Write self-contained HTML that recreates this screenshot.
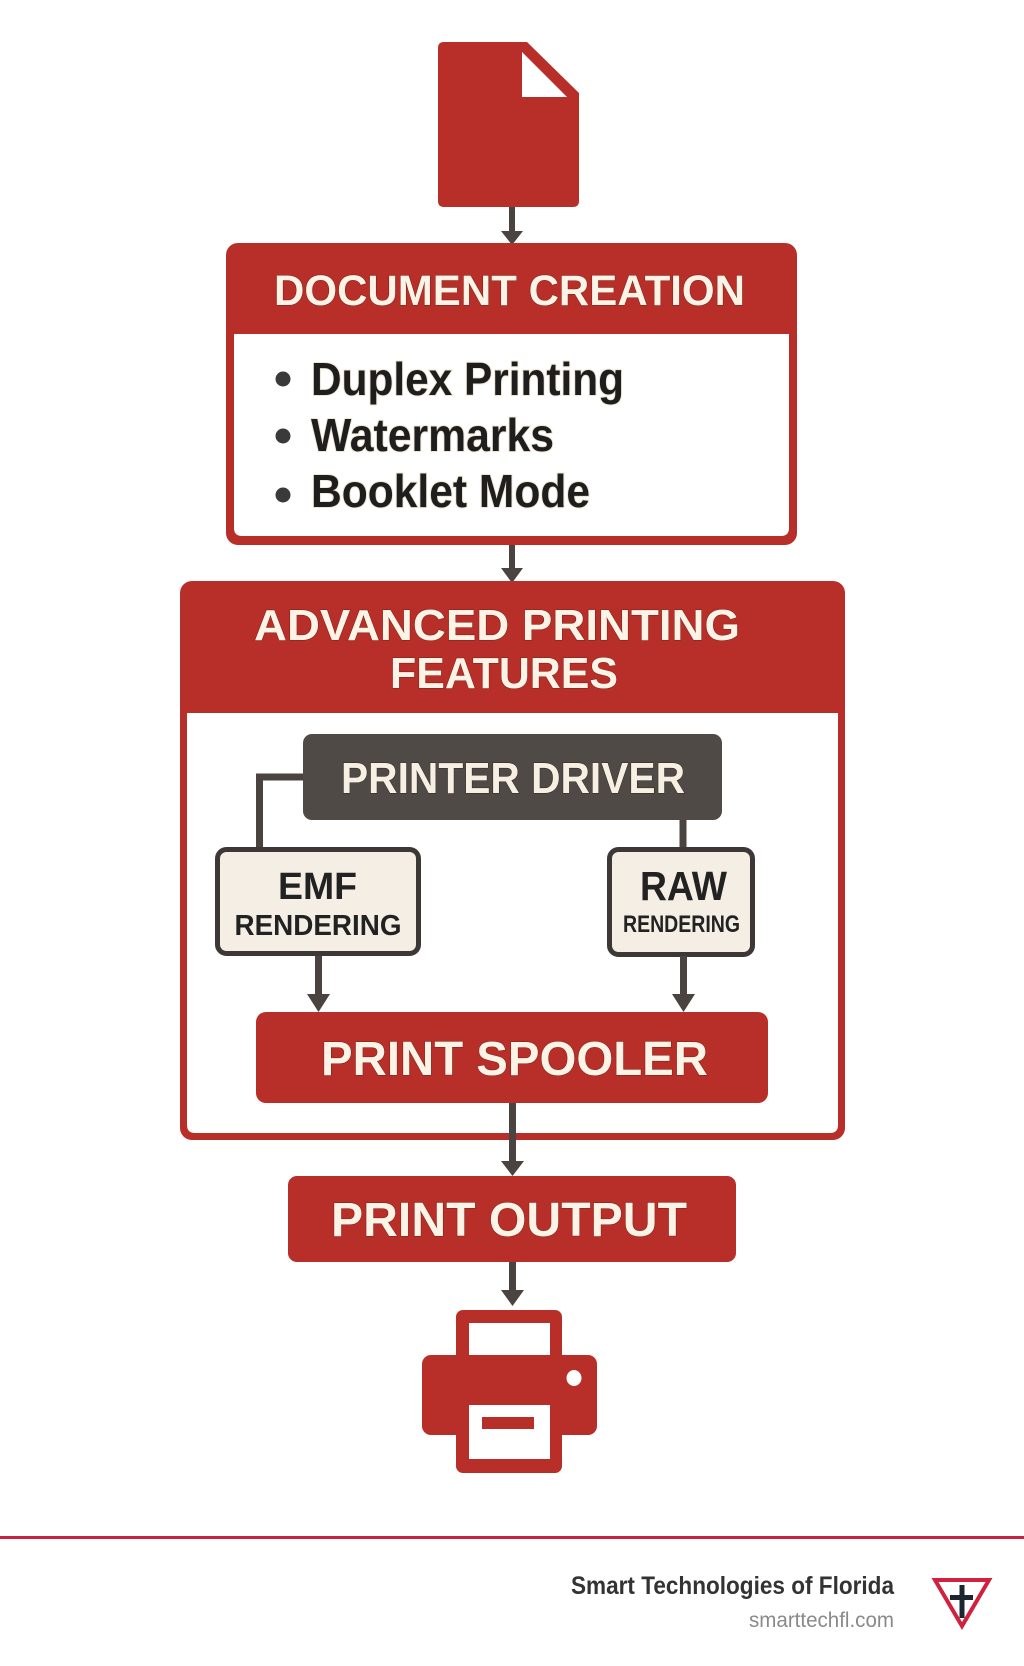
<!DOCTYPE html>
<html><head><meta charset="utf-8"><style>
html,body{margin:0;padding:0;background:#fff;}
svg{display:block;}
</style></head><body>
<svg width="1024" height="1666" viewBox="0 0 1024 1666" xmlns="http://www.w3.org/2000/svg" font-family="'Liberation Sans', sans-serif">
<rect width="1024" height="1666" fill="#fff"/>
<!-- document icon -->
<path d="M444,42 H527 L579,93 V201 Q579,207 573,207 H444 Q438,207 438,201 V48 Q438,42 444,42 Z" fill="#b82e28"/>
<path d="M522,52 V97 H567 Z" fill="#fff"/>
<!-- arrow 1 -->
<rect x="509" y="207" width="6" height="26" fill="#4a4340"/>
<polygon points="501,231 523,231 512,245" fill="#4a4340"/>
<!-- document creation box -->
<rect x="226" y="243" width="571" height="302" rx="12" fill="#b82e28"/>
<path d="M234,334 H789 V528 Q789,536 781,536 H242 Q234,536 234,528 Z" fill="#fff"/>
<text x="509.5" y="305" font-size="43" font-weight="bold" fill="#fbf3e6" stroke="#7a1f18" stroke-width="1" paint-order="stroke" text-anchor="middle" textLength="471" lengthAdjust="spacingAndGlyphs">DOCUMENT CREATION</text>
<circle cx="283" cy="379" r="7.5" fill="#3a3a3a"/>
<circle cx="283" cy="436" r="7.5" fill="#3a3a3a"/>
<circle cx="283" cy="495" r="7.5" fill="#3a3a3a"/>
<g font-size="46" font-weight="bold" fill="#1e1e1e" stroke="#efe6d2" stroke-width="2" paint-order="stroke">
<text x="311" y="395" textLength="313" lengthAdjust="spacingAndGlyphs">Duplex Printing</text>
<text x="311" y="451" textLength="243" lengthAdjust="spacingAndGlyphs">Watermarks</text>
<text x="311" y="507" textLength="279" lengthAdjust="spacingAndGlyphs">Booklet Mode</text>
</g>
<!-- arrow 2 -->
<rect x="509" y="545" width="6" height="25" fill="#4a4340"/>
<polygon points="501,568 523,568 512,583" fill="#4a4340"/>
<!-- advanced box -->
<rect x="180" y="581" width="665" height="559" rx="12" fill="#b82e28"/>
<path d="M187,713 H838 V1125 Q838,1133 830,1133 H195 Q187,1133 187,1125 Z" fill="#fff"/>
<g font-size="44" font-weight="bold" fill="#fbf3e6" stroke="#7a1f18" stroke-width="1" paint-order="stroke" text-anchor="middle">
<text x="497" y="640" textLength="486" lengthAdjust="spacingAndGlyphs">ADVANCED PRINTING</text>
<text x="504" y="688" textLength="228" lengthAdjust="spacingAndGlyphs">FEATURES</text>
</g>
<!-- printer driver -->
<rect x="303" y="734" width="419" height="86" rx="9" fill="#4f4a46"/>
<text x="513" y="793" font-size="44" font-weight="bold" fill="#f7efe2" stroke="#2a2624" stroke-width="1" paint-order="stroke" text-anchor="middle" textLength="344" lengthAdjust="spacingAndGlyphs">PRINTER DRIVER</text>
<!-- connectors -->
<path d="M303,777 H259.5 V849" fill="none" stroke="#4a4340" stroke-width="7"/>
<path d="M683,820 V849" fill="none" stroke="#4a4340" stroke-width="7"/>
<!-- EMF box -->
<rect x="217.5" y="849.5" width="201" height="104" rx="9" fill="#f4eee4" stroke="#3d3835" stroke-width="5"/>
<text x="317.5" y="899" font-size="38" font-weight="bold" fill="#222" text-anchor="middle" textLength="79" lengthAdjust="spacingAndGlyphs">EMF</text>
<text x="318" y="935" font-size="29" font-weight="bold" fill="#222" text-anchor="middle" textLength="167" lengthAdjust="spacingAndGlyphs">RENDERING</text>
<!-- RAW box -->
<rect x="609.5" y="849.5" width="143" height="105" rx="9" fill="#f4eee4" stroke="#3d3835" stroke-width="5"/>
<text x="683.5" y="900" font-size="41" font-weight="bold" fill="#222" text-anchor="middle" textLength="87" lengthAdjust="spacingAndGlyphs">RAW</text>
<text x="681.5" y="932" font-size="24" font-weight="bold" fill="#222" text-anchor="middle" textLength="117" lengthAdjust="spacingAndGlyphs">RENDERING</text>
<!-- arrows to spooler -->
<rect x="315" y="956" width="7" height="40" fill="#4a4340"/>
<polygon points="307,994 330,994 318.5,1012" fill="#4a4340"/>
<rect x="680" y="956" width="7" height="40" fill="#4a4340"/>
<polygon points="672,994 695,994 683.5,1012" fill="#4a4340"/>
<!-- spooler -->
<rect x="256" y="1012" width="512" height="91" rx="10" fill="#b82e28"/>
<text x="514.5" y="1075" font-size="48" font-weight="bold" fill="#fbf3e6" stroke="#7a1f18" stroke-width="1" paint-order="stroke" text-anchor="middle" textLength="387" lengthAdjust="spacingAndGlyphs">PRINT SPOOLER</text>
<!-- arrow to output -->
<rect x="509" y="1103" width="7" height="60" fill="#4a4340"/>
<polygon points="501,1161 524,1161 512.5,1176" fill="#4a4340"/>
<!-- print output -->
<rect x="288" y="1176" width="448" height="86" rx="9" fill="#b82e28"/>
<text x="509" y="1236" font-size="48" font-weight="bold" fill="#fbf3e6" stroke="#7a1f18" stroke-width="1" paint-order="stroke" text-anchor="middle" textLength="356" lengthAdjust="spacingAndGlyphs">PRINT OUTPUT</text>
<!-- arrow to printer -->
<rect x="509" y="1262" width="7" height="30" fill="#4a4340"/>
<polygon points="501,1290 524,1290 512.5,1306" fill="#4a4340"/>
<!-- printer icon -->
<rect x="456" y="1310" width="106" height="60" rx="7" fill="#b82e28"/>
<rect x="469" y="1323" width="81" height="40" fill="#fff"/>
<rect x="422" y="1355" width="175" height="80" rx="9" fill="#b82e28"/>
<rect x="456" y="1400" width="106" height="73" rx="7" fill="#b82e28"/>
<rect x="469" y="1405" width="81" height="54" fill="#fff"/>
<rect x="482" y="1417" width="52" height="12" fill="#b82e28"/>
<ellipse cx="574" cy="1378" rx="7.5" ry="8" fill="#fff"/>
<!-- footer -->
<rect x="0" y="1536" width="1024" height="3" fill="#c8203e"/>
<text x="894" y="1594" font-size="25" font-weight="bold" fill="#333" text-anchor="end" textLength="323" lengthAdjust="spacingAndGlyphs">Smart Technologies of Florida</text>
<text x="894" y="1627" font-size="21" fill="#8a8a8a" text-anchor="end" textLength="145" lengthAdjust="spacingAndGlyphs">smarttechfl.com</text>
<!-- logo -->
<path d="M935,1580 H989 L962,1626 Z" fill="none" stroke="#d0213f" stroke-width="4" stroke-linejoin="miter"/>
<rect x="959.5" y="1585" width="5" height="33" fill="#1c2530"/>
<rect x="950" y="1595" width="23" height="5" fill="#1c2530"/>
</svg>
</body></html>
